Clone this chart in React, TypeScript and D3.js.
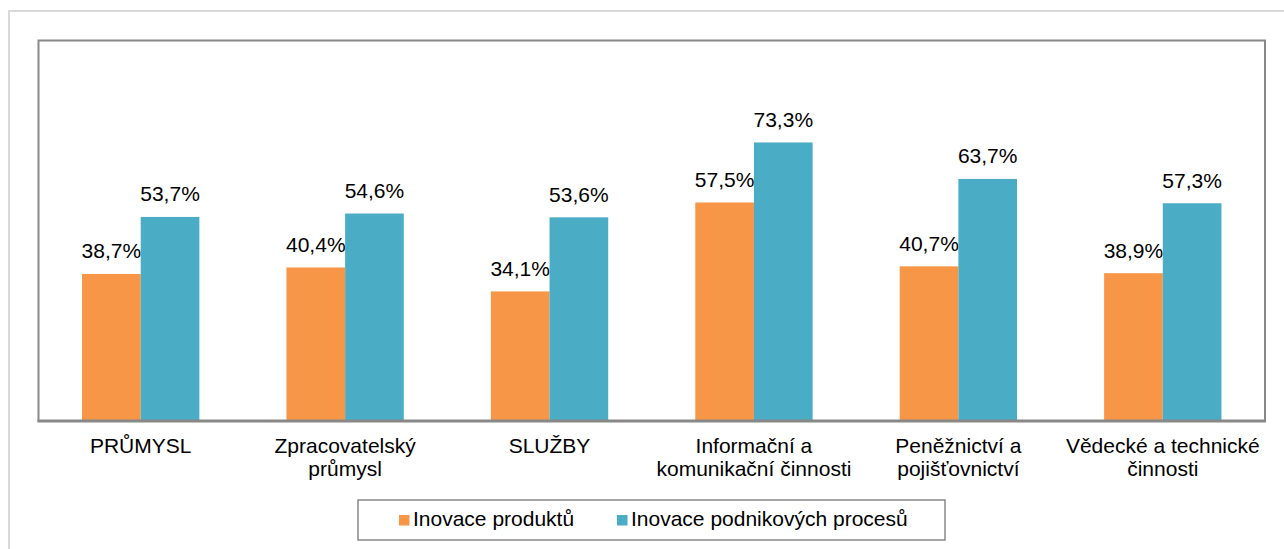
import React from "react";
import * as d3 from "d3";

const categories: string[][] = [
  ["PRŮMYSL"],
  ["Zpracovatelský", "průmysl"],
  ["SLUŽBY"],
  ["Informační a", "komunikační činnosti"],
  ["Peněžnictví a", "pojišťovnictví"],
  ["Vědecké a technické", "činnosti"],
];
const productInnovation = [38.7, 40.4, 34.1, 57.5, 40.7, 38.9];
const processInnovation = [53.7, 54.6, 53.6, 73.3, 63.7, 57.3];
const seriesNames = ["Inovace produktů", "Inovace podnikových procesů"];
const seriesColors = ["#F79646", "#4BACC6"];

const W = 1284;
const H = 549;
const plot = { left: 38.5, right: 1265, top: 40.5, bottom: 421 };
const FONT = "'Liberation Sans', Arial, sans-serif";
const FS = 21;

export default function App() {
  const keys = categories.map((c) => c.join(" "));
  const x0 = d3
    .scaleBand<string>()
    .domain(keys)
    .range([plot.left, plot.right])
    .paddingInner(0.426)
    .paddingOuter(0.213);
  const x1 = d3.scaleBand<number>().domain([0, 1]).range([0, x0.bandwidth()]);
  const y = d3.scaleLinear().domain([0, 100]).range([plot.bottom, 41]);
  const fmt = (v: number) => v.toFixed(1).replace(".", ",") + "%";
  const series = [productInnovation, processInnovation];

  const legendItems = [
    { sq: 399, tx: 413 },
    { sq: 617, tx: 631 },
  ];

  return (
    <svg
      width={W}
      height={H}
      style={{ position: "absolute", left: 0, top: 0, background: "#fff" }}
      fontFamily={FONT}
    >
      <rect x={9} y={11} width={W} height={H} fill="#fff" stroke="#d9d9d9" strokeWidth={2} />
      <rect
        x={plot.left}
        y={plot.top}
        width={plot.right - plot.left}
        height={plot.bottom - plot.top}
        fill="#fff"
        stroke="#888888"
        strokeWidth={2}
      />
      {keys.map((k, i) => (
        <g key={k}>
          {series.map((s, j) => {
            const bx = (x0(k) ?? 0) + (x1(j) ?? 0);
            const bw = x1.bandwidth();
            return (
              <g key={j}>
                <rect
                  x={bx}
                  y={y(s[i])}
                  width={bw}
                  height={plot.bottom - y(s[i])}
                  fill={seriesColors[j]}
                />
                <text
                  x={bx + bw / 2}
                  y={y(s[i]) - 15.5}
                  textAnchor="middle"
                  fontSize={FS}
                  fill="#000"
                >
                  {fmt(s[i])}
                </text>
              </g>
            );
          })}
          {categories[i].map((line, li) => (
            <text
              key={li}
              x={(x0(k) ?? 0) + x0.bandwidth() / 2}
              y={453 + li * 23}
              textAnchor="middle"
              fontSize={FS}
              fill="#000"
            >
              {line}
            </text>
          ))}
        </g>
      ))}
      <line
        x1={plot.left - 1}
        x2={plot.right + 1}
        y1={plot.bottom}
        y2={plot.bottom}
        stroke="#888888"
        strokeWidth={3}
      />
      <rect x={358} y={500} width={587} height={40} fill="#fff" stroke="#888888" strokeWidth={1.5} />
      {seriesNames.map((n, j) => (
        <g key={n}>
          <rect x={legendItems[j].sq} y={515} width={10.5} height={10.5} fill={seriesColors[j]} />
          <text x={legendItems[j].tx} y={526} fontSize={FS} fill="#000">
            {n}
          </text>
        </g>
      ))}
    </svg>
  );
}
